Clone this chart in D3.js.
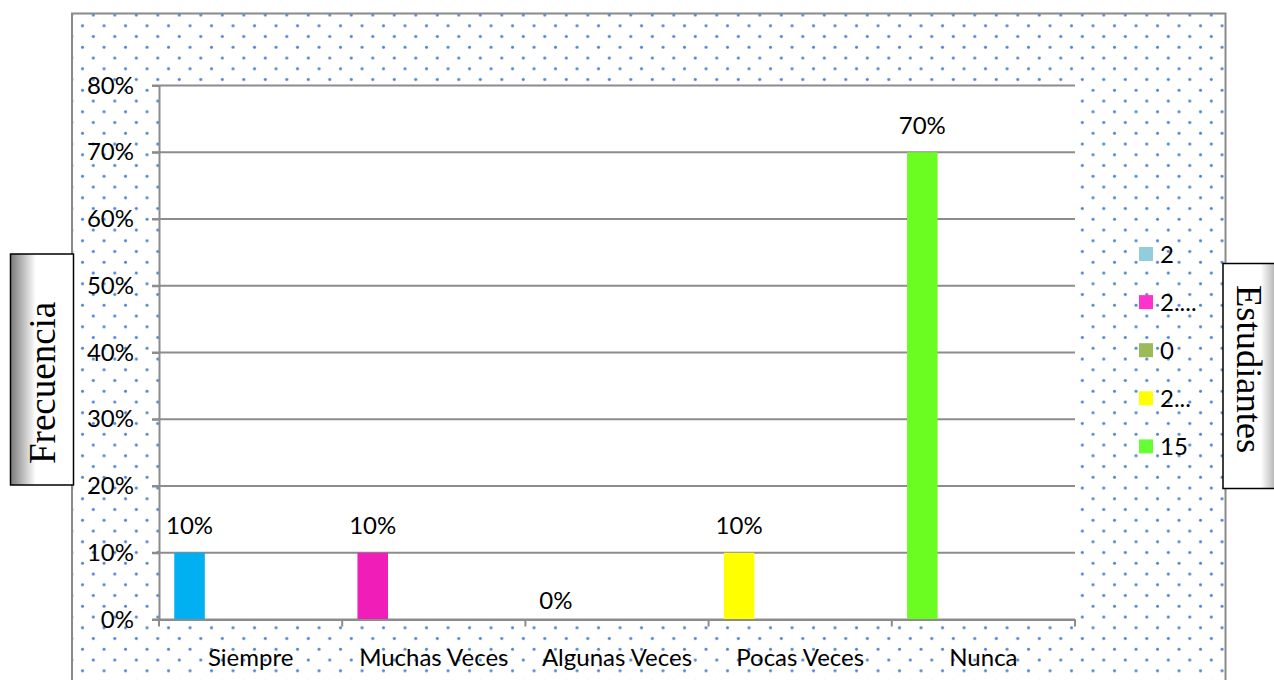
<!DOCTYPE html>
<html lang="es">
<head>
<meta charset="utf-8">
<title>Frecuencia</title>
<style>
  body { margin: 0; background: #fff; }
  svg { display: block; }
  text { font-family: Lato, "Open Sans", sans-serif; fill: #000; }
  .serif { font-family: "Liberation Serif", "DejaVu Serif", serif; }
</style>
</head>
<body>
<svg id="chart"></svg>
<script src="https://d3js.org/d3.v7.min.js"></script>
<script>
  // data
  const categories = ["Siempre", "Muchas Veces", "Algunas Veces", "Pocas Veces", "Nunca"];
  const values = [0.10, 0.10, 0.00, 0.10, 0.70];
  const barColors = ["#00b0f0", "#f01db8", "#9bbb59", "#ffff00", "#6bfc22"];
  const legendLabels = ["2", "2....", "0", "2...", "15"];
  const legendColors = ["#92cddc", "#ff33cc", "#9bbb59", "#ffff00", "#66ff33"];
  const yTicks = [0, 0.1, 0.2, 0.3, 0.4, 0.5, 0.6, 0.7, 0.8];

  const W = 1274, H = 680;
  const plot = { left: 159, right: 1075, top: 85.5, bottom: 619.5 };

  const svg = d3.select("#chart").attr("width", W).attr("height", H);
  const defs = svg.append("defs");

  // dotted fill of the chart area
  const pat = defs.append("pattern")
    .attr("id", "dots")
    .attr("patternUnits", "userSpaceOnUse")
    .attr("width", 21.5).attr("height", 21.5);
  pat.append("circle").attr("cx", 7.3).attr("cy", 15).attr("r", 1.5);
  pat.append("circle").attr("cx", 18.05).attr("cy", 4.25).attr("r", 1.5);
  pat.selectAll("circle").attr("fill", "#4f84d0");

  const gl = defs.append("linearGradient").attr("id", "shadeL");
  gl.append("stop").attr("offset", "0%").attr("stop-color", "#7a7a7a");
  gl.append("stop").attr("offset", "40%").attr("stop-color", "#fff");
  gl.append("stop").attr("offset", "100%").attr("stop-color", "#fff");

  const gr = defs.append("linearGradient").attr("id", "shadeR");
  gr.append("stop").attr("offset", "0%").attr("stop-color", "#fff");
  gr.append("stop").attr("offset", "60%").attr("stop-color", "#fff");
  gr.append("stop").attr("offset", "100%").attr("stop-color", "#7a7a7a");

  // chart area
  svg.append("rect")
    .attr("x", 72).attr("y", 13.5).attr("width", 1153.5).attr("height", 700)
    .attr("fill", "#fff");
  svg.append("rect")
    .attr("x", 72).attr("y", 13.5).attr("width", 1153.5).attr("height", 700)
    .attr("fill", "url(#dots)")
    .attr("stroke", "#8a8a8a").attr("stroke-width", 2);

  // plot area
  svg.append("rect")
    .attr("x", plot.left).attr("y", plot.top)
    .attr("width", plot.right - plot.left).attr("height", plot.bottom - plot.top)
    .attr("fill", "#fff");

  const x = d3.scaleBand().domain(categories).range([plot.left, plot.right]).padding(0);
  const y = d3.scaleLinear().domain([0, 0.8]).range([plot.bottom, plot.top]);

  // gridlines
  svg.append("g")
    .selectAll("line")
    .data(yTicks)
    .join("line")
    .attr("x1", plot.left - 7).attr("x2", plot.right)
    .attr("y1", d => y(d)).attr("y2", d => y(d))
    .attr("stroke", "#8c8c8c").attr("stroke-width", 2);

  // y axis
  const yAxis = svg.append("g")
    .attr("transform", `translate(${plot.left},0)`)
    .call(d3.axisLeft(y).tickValues(yTicks).tickFormat(d3.format(".0%")).tickSize(7).tickPadding(18));
  yAxis.select(".domain").attr("stroke", "#8c8c8c").attr("stroke-width", 2);
  yAxis.selectAll(".tick line").attr("stroke", "#8c8c8c").attr("stroke-width", 2);
  yAxis.selectAll(".tick text")
    .attr("font-family", "Lato, sans-serif").attr("font-size", 24).attr("fill", "#000");

  // bars (first slot of a 6-slot cluster)
  const barW = x.bandwidth() / 6;
  svg.append("g")
    .selectAll("rect")
    .data(categories)
    .join("rect")
    .attr("x", (c) => x(c) + barW / 2)
    .attr("width", barW)
    .attr("y", (c, i) => y(values[i]))
    .attr("height", (c, i) => y(0) - y(values[i]))
    .attr("fill", (c, i) => barColors[i]);

  // x axis
  const xAxis = svg.append("g")
    .attr("transform", `translate(0,${plot.bottom})`)
    .call(d3.axisBottom(x).tickSize(0).tickPadding(29));
  xAxis.select(".domain").attr("stroke", "#8c8c8c").attr("stroke-width", 2);
  xAxis.selectAll(".tick text")
    .attr("font-family", "Lato, sans-serif").attr("font-size", 24).attr("fill", "#000");
  svg.append("g")
    .selectAll("line")
    .data([...categories.map(c => x(c)), plot.right])
    .join("line")
    .attr("x1", d => d).attr("x2", d => d)
    .attr("y1", plot.bottom).attr("y2", plot.bottom + 7)
    .attr("stroke", "#8c8c8c").attr("stroke-width", 2);

  // data labels
  svg.append("g")
    .selectAll("text")
    .data(categories)
    .join("text")
    .attr("x", c => x(c) + barW)
    .attr("y", (c, i) => y(values[i]) - (values[i] > 0 ? 18.5 : 11))
    .attr("text-anchor", "middle")
    .attr("font-size", 24)
    .text((c, i) => d3.format(".0%")(values[i]));

  // legend
  const lg = svg.append("g")
    .selectAll("g")
    .data(legendLabels)
    .join("g")
    .attr("transform", (d, i) => `translate(1139,${254 + i * 48.1})`);
  lg.append("rect")
    .attr("x", 0).attr("y", -7).attr("width", 14).attr("height", 14)
    .attr("fill", (d, i) => legendColors[i]);
  lg.append("text")
    .attr("x", 21).attr("y", 8.5)
    .attr("font-size", 24)
    .text(d => d);

  // side label boxes
  svg.append("rect")
    .attr("x", 10.5).attr("y", 254).attr("width", 63).attr("height", 231)
    .attr("fill", "url(#shadeL)").attr("stroke", "#000").attr("stroke-width", 1.5);
  svg.append("text")
    .attr("class", "serif")
    .attr("transform", "translate(55,464) rotate(-90)")
    .attr("font-size", 37)
    .text("Frecuencia");

  svg.append("rect")
    .attr("x", 1223).attr("y", 263.5).attr("width", 63).attr("height", 225)
    .attr("fill", "url(#shadeR)").attr("stroke", "#000").attr("stroke-width", 1.5);
  svg.append("text")
    .attr("class", "serif")
    .attr("transform", "translate(1237,285) rotate(90)")
    .attr("font-size", 36.5)
    .text("Estudiantes");
</script>
</body>
</html>
